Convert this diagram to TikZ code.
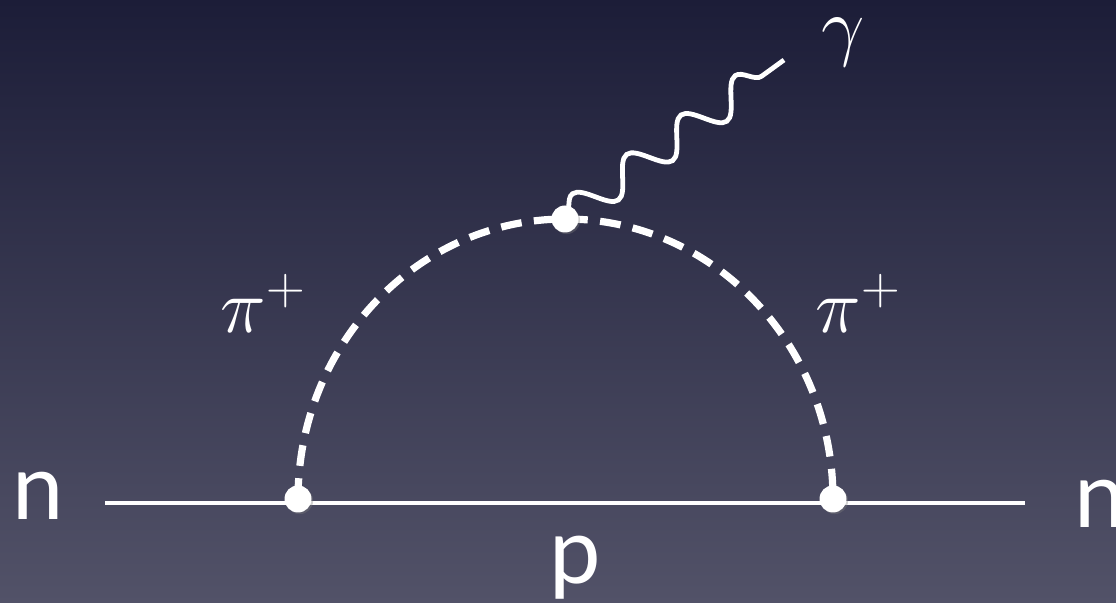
\documentclass[tikz,border=0pt]{standalone}
\usepackage{fontspec}
\newfontfamily\lblfont{Lato}
\usetikzlibrary{decorations.pathmorphing,shadows}
\definecolor{bgtop}{RGB}{28,29,56}
\definecolor{bgbot}{RGB}{82,82,104}
\tikzset{
  vtx/.style={circle, fill=white, inner sep=0pt, minimum size=13.5pt, drop shadow={opacity=0.35, shadow xshift=0.8pt, shadow yshift=-0.8pt}},
  fermion/.style={draw=white, line width=2pt},
  scalar/.style={draw=white, line width=3.6pt, dash pattern=on 10.4pt off 6.2pt},
  photon/.style={draw=white, line width=2.4pt, decorate, decoration={snake, amplitude=8pt, segment length=33.5pt}},
  particle/.style={text=white, inner sep=0pt, anchor=base west, font=\lblfont\fontsize{46}{50}\selectfont},
  mathlbl/.style={text=white, inner sep=0pt, anchor=base west, font=\fontsize{24}{28}\selectfont}
}
\newcommand{\biglbl}[1]{\scalebox{1.55}{#1}}

\begin{document}
\begin{tikzpicture}[x=0.5pt, y=0.5pt]
  \shade[top color=bgtop, bottom color=bgbot] (0,0) rectangle (1116,603);
  \useasboundingbox (0,0) rectangle (1116,603);
  % vertices and line ends
  \coordinate (vl) at (298,104);
  \coordinate (vr) at (833,104);
  \coordinate (vt) at (565,384);
  \coordinate (ein) at (105,100);
  \coordinate (eout) at (1025,100);
  \coordinate (gend) at (784,543);
  % propagators
  \draw[fermion] (ein) -- (eout);
  \draw[scalar] (vl) arc[start angle=180, end angle=0, x radius=267.5, y radius=280];
  \draw[photon] (vt) -- (gend);
  \node[vtx] (dl) at (vl) {};
  \node[vtx] (dr) at (vr) {};
  \node[vtx] (dt) at (vt) {};
  % labels
  \node[particle] (nin) at (12,83) {n};
  \node[particle] (nout) at (1074,75) {n};
  \node[particle] (prot) at (549,19) {p};
  \node[mathlbl] (pil) at (220,270) {\biglbl{$\pi^+$}};
  \node[mathlbl] (pir) at (815,270) {\biglbl{$\pi^+$}};
  \node[mathlbl] (gam) at (821,551) {\biglbl{$\gamma$}};
\end{tikzpicture}
\end{document}
